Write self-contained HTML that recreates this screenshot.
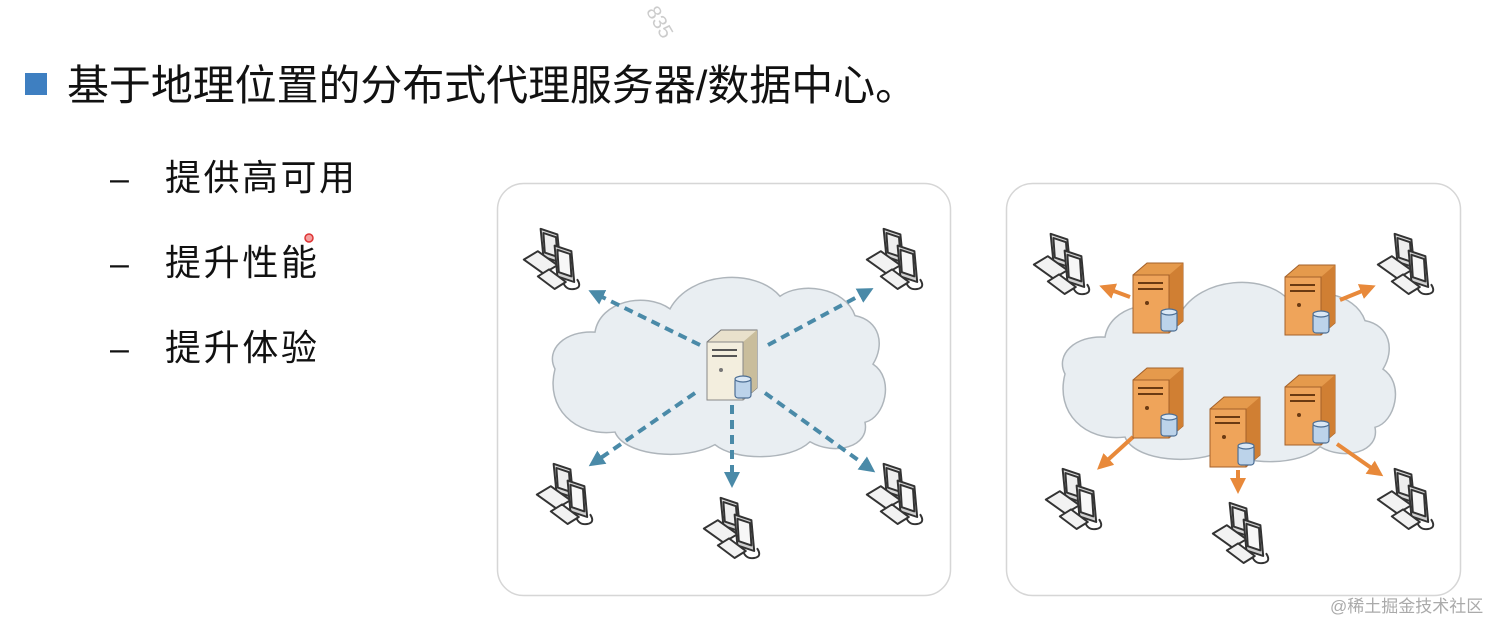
<!DOCTYPE html>
<html><head><meta charset="utf-8"><style>
html,body{margin:0;padding:0;background:#fff;}
svg{display:block}
text{font-family:"Liberation Sans","Noto Sans CJK SC",sans-serif;}
</style></head><body>
<svg width="1512" height="635" viewBox="0 0 1512 635" xmlns="http://www.w3.org/2000/svg">
<defs>
<g id="pc0" fill="#f2f2f2" stroke="#333" stroke-width="1.4" stroke-linejoin="round">
  <path d="M14 2 L26 6 L28 26 L16 22 Z" fill="#d8d8d8"/>
  <path d="M16 5 L25 8 L26 22 L17 19 Z" fill="#eee"/>
  <path d="M2 24 L12 18 L26 28 L16 34 Z"/>
  <path d="M24 14 L36 18 L38 40 L26 36 Z" fill="#cfcfcf"/>
  <path d="M26 17 L35 20 L36 36 L27 33 Z" fill="#f7f7f7"/>
  <path d="M30 40 Q32 46 38 45 Q44 44 40 38" fill="none"/>
  <path d="M12 36 L20 31 L32 40 L24 45 Z"/>
</g>
<g id="pc"><use href="#pc0" transform="scale(1.4)"/></g>
<g id="srvB">
  <path d="M0 12 L14 0 L50 0 L50 58 L36 70 L0 70 Z" fill="#e9e1cc" stroke="#777" stroke-width="1"/>
  <path d="M36 12 L50 0 L50 58 L36 70 Z" fill="#c9bd9c"/>
  <rect x="0" y="12" width="36" height="58" fill="#f3eede" stroke="#888" stroke-width="1"/>
  <line x1="5" y1="20" x2="30" y2="20" stroke="#555" stroke-width="2"/>
  <line x1="5" y1="26" x2="30" y2="26" stroke="#555" stroke-width="2"/>
  <circle cx="14" cy="40" r="2" fill="#777"/>
  <rect x="28" y="48" width="16" height="20" rx="3" fill="#bcd3ea" stroke="#4d6f95" stroke-width="1.2"/>
  <ellipse cx="36" cy="49" rx="8" ry="3" fill="#dbe8f5" stroke="#4d6f95" stroke-width="1.2"/>
</g>
<g id="srvO">
  <path d="M0 12 L14 0 L50 0 L50 58 L36 70 L0 70 Z" fill="#e59a4c" stroke="#a4612a" stroke-width="1"/>
  <path d="M36 12 L50 0 L50 58 L36 70 Z" fill="#d07f33"/>
  <rect x="0" y="12" width="36" height="58" fill="#efa45a" stroke="#a4612a" stroke-width="1"/>
  <line x1="5" y1="20" x2="30" y2="20" stroke="#6b3a12" stroke-width="2"/>
  <line x1="5" y1="26" x2="30" y2="26" stroke="#6b3a12" stroke-width="2"/>
  <circle cx="14" cy="40" r="2" fill="#6b3a12"/>
  <rect x="28" y="48" width="16" height="20" rx="3" fill="#bcd3ea" stroke="#4d6f95" stroke-width="1.2"/>
  <ellipse cx="36" cy="49" rx="8" ry="3" fill="#dbe8f5" stroke="#4d6f95" stroke-width="1.2"/>
</g>
<marker id="ab" markerWidth="4" markerHeight="4" refX="3" refY="2" orient="auto" markerUnits="strokeWidth"><path d="M0 0 L4 2 L0 4 Z" fill="#4a8aa8"/></marker>
<marker id="ao" markerWidth="4" markerHeight="4" refX="3" refY="2" orient="auto" markerUnits="strokeWidth"><path d="M0 0 L4 2 L0 4 Z" fill="#e8893a"/></marker>
<path id="cloud" d="M0 100 C-10 80 10 60 40 62 C45 30 90 20 115 38 C135 0 200 -5 225 25 C245 10 290 15 300 45 C325 50 330 75 318 95 C340 110 330 150 310 155 C315 180 280 190 255 175 C235 195 180 195 160 178 C130 195 70 190 60 165 C20 170 -10 140 0 100 Z" fill="#e9eef2" stroke="#aeb5bb" stroke-width="1.5"/>
</defs>
<text x="645" y="28" font-size="20" fill="#ccc" transform="rotate(60 660 20)">835</text>
<rect x="25" y="73" width="22" height="22" fill="#3e7fc1"/>
<text x="67" y="100" font-size="42" fill="#111" textLength="850" lengthAdjust="spacingAndGlyphs">基于地理位置的分布式代理服务器/数据中心。</text>
<text x="110" y="190" font-size="34" fill="#111">–</text>
<text x="165" y="190" font-size="36" fill="#111" textLength="190">提供高可用</text>
<text x="110" y="275" font-size="34" fill="#111">–</text>
<text x="165" y="275" font-size="36" fill="#111" textLength="152">提升性能</text>
<circle cx="309" cy="238" r="4" fill="#f4a0a0" stroke="#d33" stroke-width="1.5"/>
<text x="110" y="360" font-size="34" fill="#111">–</text>
<text x="165" y="360" font-size="36" fill="#111" textLength="152">提升体验</text>

<rect x="497.5" y="183.5" width="453" height="412" rx="26" fill="#fff" stroke="#d6d6d6" stroke-width="1.5"/>
<rect x="1006.5" y="183.5" width="454" height="412" rx="26" fill="#fff" stroke="#d6d6d6" stroke-width="1.5"/>

<use href="#cloud" transform="translate(555,272) scale(1.0,0.97)"/>
<use href="#cloud" transform="translate(1065,277) scale(1.0,0.97)"/>

<g stroke="#4a8aa8" stroke-width="4" stroke-dasharray="9 6" fill="none" marker-end="url(#ab)">
<line x1="700" y1="345" x2="592" y2="292"/>
<line x1="768" y1="345" x2="870" y2="290"/>
<line x1="695" y1="393" x2="592" y2="464"/>
<line x1="732" y1="405" x2="732" y2="484"/>
<line x1="765" y1="393" x2="872" y2="470"/>
</g>
<use href="#srvB" transform="translate(707,330)"/>

<use href="#pc" transform="translate(521,226)"/>
<use href="#pc" transform="translate(864,226)"/>
<use href="#pc" transform="translate(534,461)"/>
<use href="#pc" transform="translate(701,495)"/>
<use href="#pc" transform="translate(864,461)"/>

<g stroke="#e8893a" stroke-width="4" fill="none" marker-end="url(#ao)">
<line x1="1130" y1="297" x2="1103" y2="287"/>
<line x1="1340" y1="300" x2="1372" y2="287"/>
<line x1="1133" y1="437" x2="1100" y2="467"/>
<line x1="1238" y1="470" x2="1238" y2="490"/>
<line x1="1337" y1="444" x2="1380" y2="474"/>
</g>
<use href="#srvO" transform="translate(1133,263)"/>
<use href="#srvO" transform="translate(1285,265)"/>
<use href="#srvO" transform="translate(1133,368)"/>
<use href="#srvO" transform="translate(1210,397)"/>
<use href="#srvO" transform="translate(1285,375)"/>

<use href="#pc" transform="translate(1031,231)"/>
<use href="#pc" transform="translate(1375,231)"/>
<use href="#pc" transform="translate(1043,466)"/>
<use href="#pc" transform="translate(1210,500)"/>
<use href="#pc" transform="translate(1375,466)"/>

<text x="1330" y="612" font-size="17" fill="#aaa">@稀土掘金技术社区</text>
</svg>
</body></html>
